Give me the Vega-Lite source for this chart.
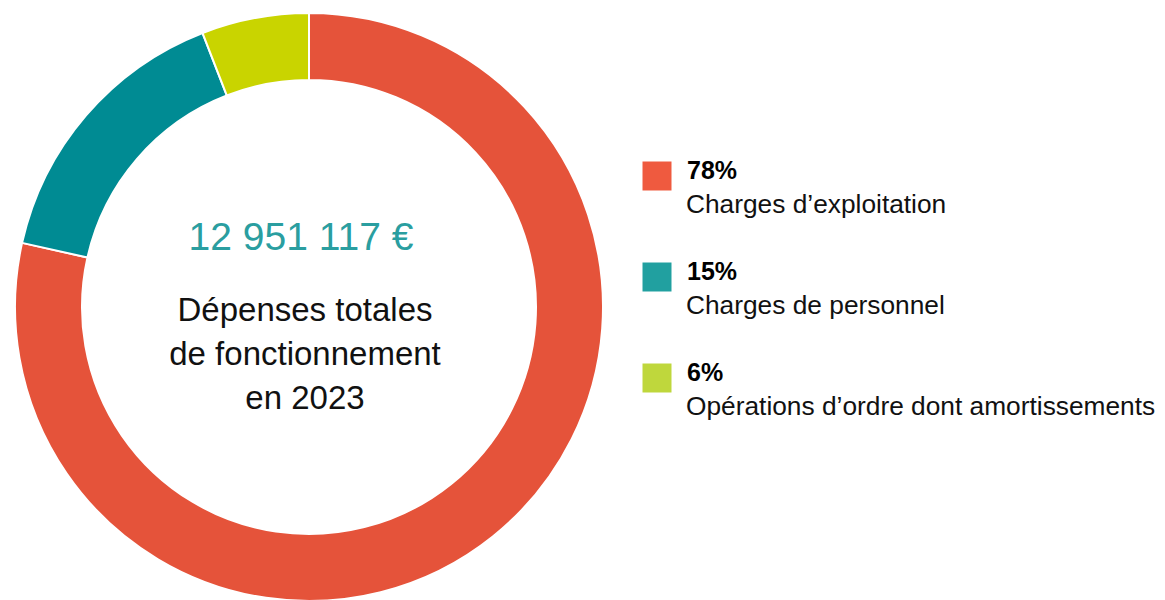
{
  "$schema": "https://vega.github.io/schema/vega-lite/v6.json",
  "padding": 0,
  "background": "white",
  "config": {"view": {"stroke": null}, "font": "Liberation Sans", "concat": {"spacing": 0}},
  "data": {"values": [
    {"category": "Charges d’exploitation", "pct": "78%", "value": 78.5, "order": 1},
    {"category": "Charges de personnel", "pct": "15%", "value": 15.6, "order": 2},
    {"category": "Opérations d’ordre dont amortissements", "pct": "6%", "value": 5.9, "order": 3}
  ]},
  "hconcat": [
    {
      "width": 618,
      "height": 614,
      "layer": [
        {
          "mark": {"type": "arc", "innerRadius": 227, "outerRadius": 294, "stroke": "white", "strokeWidth": 2},
          "encoding": {
            "theta": {"field": "value", "type": "quantitative", "stack": true},
            "order": {"field": "order", "type": "quantitative"},
            "color": {"field": "category", "type": "nominal",
              "scale": {"domain": ["Charges d’exploitation", "Charges de personnel", "Opérations d’ordre dont amortissements"],
                        "range": ["#E5533A", "#008B93", "#C9D400"]},
              "legend": null}
          }
        },
        {
          "data": {"values": [{"amount": "12 951 117 €"}]},
          "mark": {"type": "text", "fontSize": 39, "color": "#2A9EA0", "dx": -8, "dy": -57, "baseline": "alphabetic", "align": "center"},
          "encoding": {"text": {"field": "amount", "type": "nominal"}}
        },
        {
          "data": {"values": [{"caption": ["Dépenses totales", "de fonctionnement", "en 2023"]}]},
          "mark": {"type": "text", "fontSize": 33, "color": "#111111", "dx": -4, "dy": 14, "baseline": "alphabetic", "align": "center", "lineHeight": 44},
          "encoding": {"text": {"field": "caption", "type": "nominal"}}
        }
      ]
    },
    {
      "width": 78,
      "height": 614,
      "layer": [
        {
          "mark": {"type": "square", "size": 841, "filled": true, "opacity": 1},
          "encoding": {
            "y": {"field": "category", "type": "nominal", "sort": {"field": "order"}, "scale": {"type": "point", "range": [176, 378], "padding": 0}, "axis": null},
            "color": {"field": "category", "type": "nominal",
              "scale": {"domain": ["Charges d’exploitation", "Charges de personnel", "Opérations d’ordre dont amortissements"],
                        "range": ["#EF5A3F", "#21A0A0", "#BFD73C"]},
              "legend": null}
          }
        },
        {
          "mark": {"type": "text", "fontSize": 25, "fontWeight": "bold", "align": "left", "dx": 30, "dy": 3, "baseline": "alphabetic", "color": "#000000"},
          "encoding": {
            "y": {"field": "category", "type": "nominal", "sort": {"field": "order"}},
            "text": {"field": "pct", "type": "nominal"}
          }
        },
        {
          "mark": {"type": "text", "fontSize": 26.3, "align": "left", "dx": 29, "dy": 37, "baseline": "alphabetic", "color": "#111111"},
          "encoding": {
            "y": {"field": "category", "type": "nominal", "sort": {"field": "order"}},
            "text": {"field": "category", "type": "nominal"}
          }
        }
      ]
    }
  ],
  "resolve": {"scale": {"color": "independent", "theta": "independent"}}
}
